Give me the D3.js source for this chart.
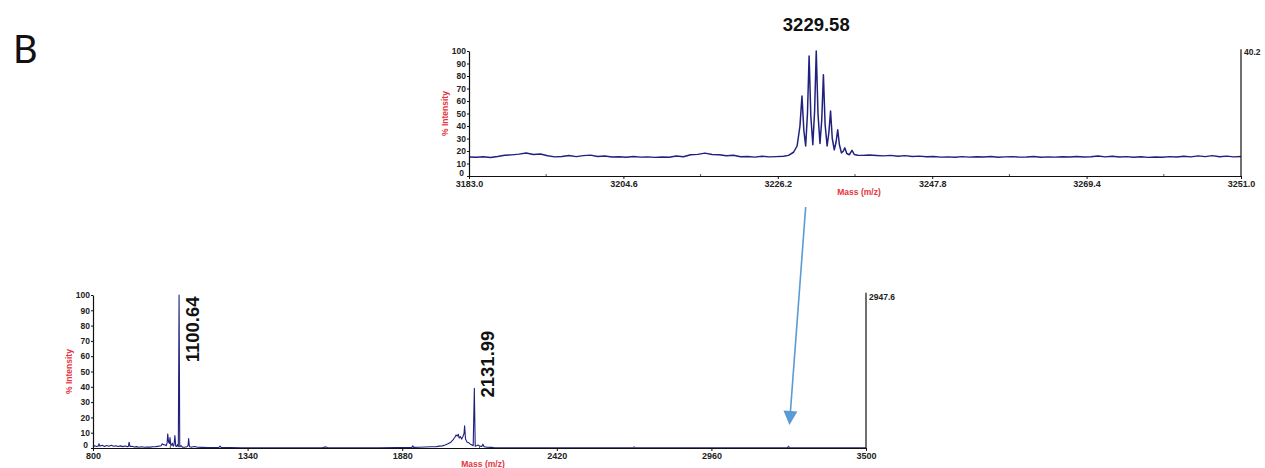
<!DOCTYPE html>
<html>
<head>
<meta charset="utf-8">
<script src="https://cdn.jsdelivr.net/npm/d3@7"></script>
<style>
  body { margin: 0; background: #fff; }
  .tick text { font-family: "Liberation Sans", Arial, sans-serif; font-weight: bold; font-size: 8.5px; fill: #222; }
  .x-axis .tick text { font-size: 9px; }
  .axis-title { font-family: "Liberation Sans", Arial, sans-serif; font-weight: bold; font-size: 8.5px; fill: #e8323c; }
  .peak-label { font-family: "Liberation Sans", Arial, sans-serif; font-weight: bold; font-size: 18.5px; fill: #111; }
  .max-label { font-family: "Liberation Sans", Arial, sans-serif; font-weight: bold; font-size: 8.5px; fill: #222; }
</style>
</head>
<body>
<div id="chart"></div>
<script>
// zoomed spectrum (top), [mass, % intensity]
const topSpectrum = [
  [3183, 15.2], [3184, 15.0], [3185, 15.4], [3186, 14.8], [3187, 15.6], [3188, 16.6], [3189, 16.9], [3190, 17.5],
  [3191, 18.4], [3192, 17.2], [3193, 17.6], [3194, 16.2], [3195, 15.3], [3196, 15.6], [3197, 16.4], [3198, 15.5],
  [3199, 16.3], [3200, 16.7], [3201, 15.6], [3202, 16.0], [3203, 15.2], [3204, 15.4], [3205, 15.0], [3206, 15.6],
  [3207, 15.1], [3208, 15.3], [3209, 14.9], [3210, 15.2], [3211, 15.0], [3212, 16.0], [3213, 15.4], [3214, 17.0],
  [3215, 17.3], [3216, 18.3], [3217, 17.2], [3218, 17.0], [3219, 16.2], [3220, 16.6], [3221, 15.4], [3222, 15.6],
  [3223, 15.1], [3224, 15.8], [3225, 15.3], [3226, 15.5], [3227, 15.8],
  [3227.7, 16.5], [3228.4, 19], [3228.9, 24], [3229.3, 40], [3229.58, 64], [3229.85, 36],
  [3230.1, 24], [3230.35, 50], [3230.58, 96], [3230.82, 48],
  [3231.1, 25], [3231.35, 52], [3231.58, 100], [3231.82, 50],
  [3232.1, 26], [3232.35, 45], [3232.58, 81], [3232.82, 41],
  [3233.1, 24], [3233.35, 35], [3233.58, 52], [3233.82, 30],
  [3234.1, 21], [3234.35, 27], [3234.58, 37], [3234.82, 25],
  [3235.1, 18.5], [3235.35, 19.8], [3235.58, 22.5], [3235.85, 18],
  [3236.2, 17], [3236.58, 20.5], [3236.9, 17.2], [3237.4, 16.6],
  [3238, 16.5], [3239, 16.8], [3240, 16.4], [3241, 16.1], [3242, 16.5], [3243, 15.8], [3244, 16.3], [3245, 15.6],
  [3246, 15.9], [3247, 15.4], [3248, 15.6], [3249, 15.1], [3250, 15.3], [3251, 15.0], [3252, 15.5], [3253, 15.1],
  [3254, 15.4], [3255, 15.2], [3256, 15.6], [3257, 15.0], [3258, 15.3], [3259, 15.5], [3260, 15.1], [3261, 15.2],
  [3262, 15.6], [3263, 15.0], [3264, 15.3], [3265, 15.1], [3266, 15.4], [3267, 15.2], [3268, 15.6], [3269, 15.2],
  [3270, 15.4], [3271, 16.0], [3272, 15.3], [3273, 15.8], [3274, 15.2], [3275, 15.5], [3276, 15.0], [3277, 15.4],
  [3278, 14.9], [3279, 15.2], [3280, 15.0], [3281, 15.5], [3282, 15.2], [3283, 15.8], [3284, 15.3], [3285, 16.1],
  [3286, 15.5], [3287, 16.3], [3288, 15.4], [3289, 15.9], [3290, 15.3], [3291, 15.6]
];

// full spectrum (bottom), [mass, % intensity]
const bottomSpectrum = [
  [800, 0.5], [805, 1.5], [812, 1.0], [818, 1.2], [821, 2.8], [824, 1.2], [832, 1.8], [840, 1.0], [848, 1.6],
  [856, 1.2], [864, 1.8], [872, 1.1], [880, 1.5], [888, 1.0], [896, 1.4], [904, 0.9], [912, 1.3], [920, 0.9],
  [924, 1.2], [926, 3.8], [929, 1.0], [936, 1.1], [944, 0.6], [952, 0.9], [960, 0.5], [970, 0.8], [980, 0.5],
  [990, 0.7], [1000, 0.6], [1010, 0.8], [1020, 0.9], [1030, 1.2], [1038, 1.5], [1042, 2.8], [1046, 2.2],
  [1052, 2.0], [1056, 1.5], [1059, 3.5], [1061, 9.2], [1064, 4.0], [1067, 3.0], [1069, 6.8], [1072, 1.5],
  [1075, 2.0], [1077, 3.2], [1080, 1.2], [1083, 2.0], [1086, 8.2], [1089, 1.2], [1092, 1.0], [1095, 2.2],
  [1098, 0.8], [1100.64, 100], [1103, 0.8], [1108, 1.5], [1112, 0.6], [1120, 0.5], [1128, 0.8], [1132, 1.5],
  [1134, 6.2], [1137, 0.8], [1145, 0.6], [1155, 1.0], [1165, 0.5], [1180, 0.4], [1200, 0.3], [1220, 0.3],
  [1240, 0.4], [1244, 1.2], [1248, 0.3], [1280, 0.3], [1320, 0.2], [1360, 0.2], [1400, 0.2], [1450, 0.2],
  [1500, 0.2], [1550, 0.2], [1600, 0.2], [1614, 0.7], [1620, 0.2], [1680, 0.2], [1740, 0.2], [1800, 0.2],
  [1860, 0.3], [1900, 0.3], [1914, 0.4], [1917, 1.4], [1920, 0.4], [1940, 0.5], [1960, 0.7], [1980, 0.8],
  [2000, 0.9], [2010, 1.2], [2020, 1.4], [2030, 2.0], [2040, 2.8], [2050, 3.8], [2058, 5.5], [2064, 7.0],
  [2068, 8.5], [2072, 7.8], [2076, 9.0], [2079, 6.5], [2083, 7.5], [2088, 5.8], [2092, 7.5], [2096, 9.5],
  [2098, 14.5], [2101, 6.0], [2106, 4.0], [2112, 3.5], [2118, 2.5], [2124, 2.0], [2128, 1.5], [2131.99, 39],
  [2135, 1.2], [2140, 1.5], [2145, 2.0], [2150, 1.2], [2158, 1.0], [2162, 2.5], [2166, 0.8], [2175, 0.6],
  [2190, 0.4], [2200, 0.3], [2230, 0.2], [2300, 0.2], [2400, 0.2], [2500, 0.1], [2600, 0.1], [2700, 0.1],
  [2800, 0.1], [2900, 0.1], [3000, 0.1], [3100, 0.1], [3200, 0.1], [3226, 0.1], [3229, 1.2], [3232, 0.1],
  [3300, 0.1], [3400, 0.1], [3500, 0.1]
];

const topXTicks = [3183.0, 3204.6, 3226.2, 3247.8, 3269.4, 3291.0];
const topXLabels = ["3183.0", "3204.6", "3226.2", "3247.8", "3269.4", "3251.0"];
const bottomXTicks = [800, 1340, 1880, 2420, 2960, 3500];
const yTicks = [0, 10, 20, 30, 40, 50, 60, 70, 80, 90, 100];

const topMaxCount = "40.2";
const bottomMaxCount = "2947.6";
const topPeakLabels = [{ text: "3229.58", mass: 3231.58, value: 100 }];
const bottomPeakLabels = [
  { text: "1100.64", mass: 1100.64, labelAt: 56 },
  { text: "2131.99", mass: 2131.99, labelAt: 33 }
];

const W = 1265, H = 468;
const lineColor = "#20207f";
const arrowColor = "#5b9bd5";

const svg = d3.select("#chart").append("svg")
  .attr("width", W).attr("height", H)
  .style("font-family", "'Liberation Sans', Arial, sans-serif");

svg.append("text")
  .attr("x", 13).attr("y", 63)
  .style("font-family", "Lato, 'Open Sans', sans-serif")
  .style("font-size", "38px")
  .attr("fill", "#111")
  .text("B");

function drawPanel(opt) {
  const x = d3.scaleLinear().domain(opt.xDomain).range(opt.xRange);
  const y = d3.scaleLinear().domain([0, 100]).range(opt.yRange);
  const g = svg.append("g");

  // spectrum trace
  g.append("path")
    .datum(opt.data)
    .attr("fill", "none")
    .attr("stroke", lineColor)
    .attr("stroke-width", opt.strokeWidth)
    .attr("stroke-linejoin", "round")
    .attr("d", d3.line().x(d => x(d[0])).y(d => y(d[1])));

  // x axis with half-step minor ticks
  const xAxis = g.append("g")
    .attr("class", "x-axis")
    .attr("transform", `translate(0,${opt.yRange[0]})`)
    .call(d3.axisBottom(x).tickValues(opt.xTicks).tickSize(3).tickSizeOuter(0)
      .tickFormat((d, i) => opt.xLabels[i]));
  xAxis.select(".domain").attr("stroke", "#111").attr("stroke-width", 1.2);
  xAxis.selectAll(".tick line").attr("stroke", "#111");
  xAxis.selectAll(".tick text").attr("dy", "0.55em");
  const minor = d3.pairs(opt.xTicks).map(([a, b]) => (a + b) / 2);
  g.selectAll(null).data(minor).join("line")
    .attr("x1", d => x(d)).attr("x2", d => x(d))
    .attr("y1", opt.yRange[0] - 2).attr("y2", opt.yRange[0])
    .attr("stroke", "#555");

  // left y axis
  const yAxis = g.append("g")
    .attr("transform", `translate(${opt.xRange[0]},0)`)
    .call(d3.axisLeft(y).tickValues(yTicks).tickSize(2).tickPadding(1).tickSizeOuter(0));
  yAxis.select(".domain").attr("stroke", "#111").attr("stroke-width", 1.2);
  yAxis.selectAll(".tick line").attr("stroke", "#111");
  // the zero label sits just above the corner, clear of the first mass label
  yAxis.selectAll(".tick text").filter(d => d === 0).attr("dy", "-0.05em").attr("dx", "-2");

  // right axis line with max count
  g.append("line")
    .attr("x1", opt.xRange[1]).attr("x2", opt.xRange[1])
    .attr("y1", y(101.5)).attr("y2", opt.yRange[0])
    .attr("stroke", "#111").attr("stroke-width", 1.2);
  g.append("text").attr("class", "max-label")
    .attr("x", opt.xRange[1] + 3).attr("y", y(97))
    .text(opt.maxCount);

  // axis titles
  g.append("text").attr("class", "axis-title")
    .attr("text-anchor", "middle")
    .attr("transform", `translate(${opt.xRange[0] - 21},${y(50)}) rotate(-90)`)
    .text("% Intensity");
  g.append("text").attr("class", "axis-title")
    .attr("text-anchor", "middle")
    .attr("x", opt.titleX).attr("y", opt.yRange[0] + 19)
    .text("Mass (m/z)");

  return { x, y, g };
}

const topPanel = drawPanel({
  data: topSpectrum,
  xDomain: [3183, 3291], xRange: [469, 1241], yRange: [176, 51],
  xTicks: topXTicks, xLabels: topXLabels,
  maxCount: topMaxCount, titleX: 859, strokeWidth: 1.5
});

const bottomPanel = drawPanel({
  data: bottomSpectrum,
  xDomain: [800, 3500], xRange: [93, 866], yRange: [448, 295],
  xTicks: bottomXTicks, xLabels: bottomXTicks.map(String),
  maxCount: bottomMaxCount, titleX: 483, strokeWidth: 1.1
});

// peak labels
topPanel.g.selectAll(".peak-label").data(topPeakLabels).join("text")
  .attr("class", "peak-label")
  .attr("text-anchor", "middle")
  .attr("x", d => topPanel.x(d.mass))
  .attr("y", d => topPanel.y(d.value) - 20)
  .text(d => d.text);

bottomPanel.g.selectAll(".peak-label").data(bottomPeakLabels).join("text")
  .attr("class", "peak-label")
  .attr("transform", d => `translate(${bottomPanel.x(d.mass) + 20},${bottomPanel.y(d.labelAt)}) rotate(-90)`)
  .text(d => d.text);

// arrow from the zoomed cluster down to its place in the full spectrum
const arrowStart = [topPanel.x(3230.1), topPanel.y(0) + 31];
const arrowTip = [bottomPanel.x(3229) + 1, bottomPanel.y(15)];
const ang = Math.atan2(arrowTip[1] - arrowStart[1], arrowTip[0] - arrowStart[0]);
const headLen = 14, headHalf = 7;
const base = [arrowTip[0] - headLen * Math.cos(ang), arrowTip[1] - headLen * Math.sin(ang)];
svg.append("line")
  .attr("x1", arrowStart[0]).attr("y1", arrowStart[1])
  .attr("x2", base[0]).attr("y2", base[1])
  .attr("stroke", arrowColor).attr("stroke-width", 1.6);
svg.append("polygon")
  .attr("points", [
    arrowTip,
    [base[0] + headHalf * Math.sin(ang), base[1] - headHalf * Math.cos(ang)],
    [base[0] - headHalf * Math.sin(ang), base[1] + headHalf * Math.cos(ang)]
  ].map(p => p.join(",")).join(" "))
  .attr("fill", arrowColor);
</script>
</body>
</html>
